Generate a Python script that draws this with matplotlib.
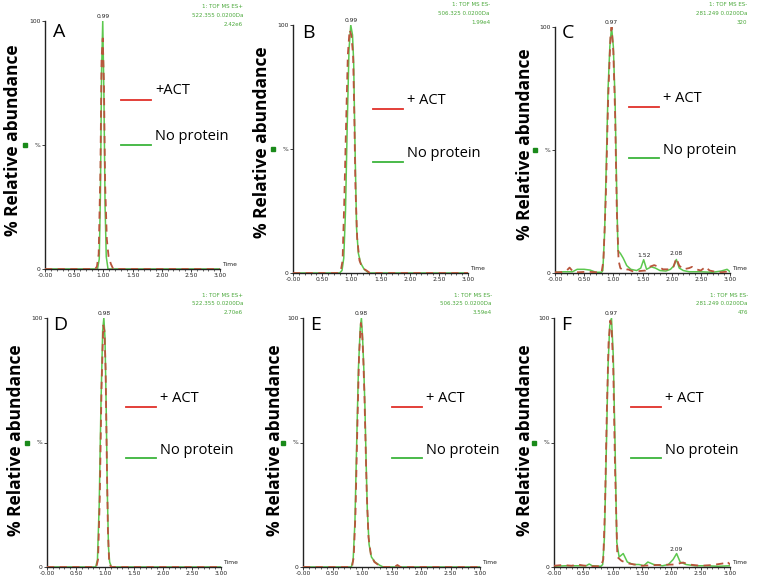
import matplotlib
matplotlib.use("Agg")
import matplotlib.pyplot as plt

# ---- data (time in min, % relative abundance) ----
a_t_green = [0.00, 0.50, 0.90, 0.93, 0.95, 0.97, 0.99, 1.01, 1.03, 1.05, 1.08, 3.00]
a_y_green = [0, 0, 0, 4, 30, 80, 100, 70, 25, 5, 0, 0]
a_t_red = [0.00, 0.86, 0.89, 0.92, 0.95, 0.97, 0.99, 1.01, 1.03, 1.06, 1.09, 1.13, 1.17, 3.00]
a_y_red = [0, 0, 1, 6, 40, 85, 93, 75, 35, 12, 5, 2, 0, 0]

b_t_green = [0.00, 0.80, 0.84, 0.87, 0.90, 0.93, 0.96, 0.99, 1.02, 1.04, 1.06, 1.09, 1.12, 1.16, 1.22, 1.30, 3.00]
b_y_green = [0, 0, 1, 6, 25, 60, 90, 100, 96, 85, 55, 18, 8, 4, 1.5, 0, 0]
b_t_red = [0.00, 0.78, 0.82, 0.85, 0.88, 0.91, 0.94, 0.97, 1.00, 1.03, 1.05, 1.07, 1.10, 1.14, 1.19, 1.26, 1.32, 3.00]
b_y_red = [0, 0, 1, 5, 30, 60, 88, 98, 96, 88, 65, 35, 14, 5, 2, 1, 0, 0]

c_t_green = [0.00, 0.15, 0.30, 0.38, 0.50, 0.60, 0.70, 0.80, 0.82, 0.85, 0.88, 0.91, 0.94, 0.97, 1.00,
             1.03, 1.06, 1.08, 1.12, 1.17, 1.23, 1.30, 1.40, 1.47, 1.52, 1.57, 1.65, 1.72, 1.80, 1.90,
             1.98, 2.04, 2.08, 2.13, 2.20, 2.30, 2.50, 2.70, 2.85, 2.95, 3.00]
c_y_green = [0.3, 0.5, 0.5, 1.5, 1.5, 1.2, 0.3, 0.3, 1, 16, 45, 75, 92, 100, 92,
             70, 30, 9, 8, 6, 3, 1.5, 1, 2, 5.4, 1.5, 2.5, 2, 1, 0.8,
             1.5, 3, 5.5, 2, 1, 0.5, 0.5, 0.3, 0.8, 1.5, 0.5]
c_t_red = [0.00, 0.10, 0.20, 0.25, 0.30, 0.40, 0.55, 0.70, 0.80, 0.83, 0.87, 0.91, 0.95, 0.97, 1.00,
           1.03, 1.06, 1.09, 1.12, 1.18, 1.25, 1.35, 1.45, 1.55, 1.62, 1.70, 1.78, 1.85, 1.95, 2.03,
           2.08, 2.13, 2.20, 2.30, 2.35, 2.42, 2.50, 2.58, 2.65, 2.75, 2.85, 2.92, 3.00]
c_y_red = [0.3, 0.3, 1, 2.2, 0.8, 0.3, 0.5, 0.3, 0.5, 5, 30, 70, 96, 100, 90,
           65, 25, 5, 2, 1, 1.5, 0.5, 0.8, 1, 2.5, 3.2, 2.5, 1.5, 1.5, 2.5,
           6, 3, 1.5, 2, 2.5, 1.5, 1, 2.5, 1, 0.5, 0.3, 0.5, 0.5]

d_t_green = [0.00, 0.84, 0.87, 0.90, 0.93, 0.96, 0.98, 1.00, 1.02, 1.04, 1.06, 1.08, 1.11, 3.00]
d_y_green = [0, 0, 3, 25, 65, 95, 100, 92, 65, 30, 8, 2, 0, 0]
d_t_red = [0.00, 0.85, 0.88, 0.91, 0.94, 0.97, 0.99, 1.01, 1.03, 1.05, 1.07, 1.10, 3.00]
d_y_red = [0, 0, 3, 28, 72, 97, 95, 80, 45, 15, 3, 0, 0]

e_t_green = [0.00, 0.82, 0.85, 0.88, 0.91, 0.94, 0.97, 0.99, 1.01, 1.03, 1.05, 1.07, 1.09, 1.12,
             1.16, 1.22, 1.30, 1.36, 3.00]
e_y_green = [0, 0, 3, 18, 50, 80, 96, 100, 92, 80, 64, 42, 23, 9, 4, 2, 0.7, 0, 0]
e_t_red = [0.00, 0.83, 0.86, 0.89, 0.92, 0.95, 0.98, 1.00, 1.02, 1.04, 1.06, 1.08, 1.11, 1.15,
           1.21, 1.28, 1.35, 1.55, 1.60, 1.65, 3.00]
e_y_red = [0, 0, 4, 22, 55, 85, 98, 95, 85, 70, 50, 30, 12, 5, 2, 0.8, 0, 0, 0.8, 0, 0]

f_t_green = [0.00, 0.20, 0.40, 0.55, 0.60, 0.65, 0.80, 0.83, 0.86, 0.89, 0.92, 0.95, 0.98, 1.01,
             1.04, 1.07, 1.11, 1.18, 1.25, 1.35, 1.45, 1.53, 1.60, 1.70, 1.85, 1.95, 2.03, 2.09,
             2.15, 2.25, 2.40, 2.60, 2.80, 3.00]
f_y_green = [0.3, 0.5, 0.5, 0.5, 1.2, 0.5, 0.3, 1, 12, 45, 80, 97, 100, 85,
             50, 10, 4, 5.4, 2, 1, 1, 0.5, 2, 1, 0.5, 1, 3, 5.4,
             2, 1, 0.5, 0.5, 0.3, 0.5]
f_t_red = [0.00, 0.15, 0.30, 0.40, 0.50, 0.65, 0.80, 0.84, 0.87, 0.90, 0.93, 0.96, 0.98, 1.01,
           1.04, 1.08, 1.15, 1.25, 1.50, 1.75, 2.05, 2.20, 2.30, 2.50, 2.70, 2.90, 2.95, 3.00]
f_y_red = [0.5, 0.8, 0.5, 1, 0.6, 0.3, 0.3, 3, 25, 62, 90, 99, 97, 80,
           40, 4, 2.5, 1.5, 0.5, 0.8, 1, 1.8, 1, 0.5, 0.8, 1.5, 2.2, 1]

letters = ["A", "B", "C", "D", "E", "F"]
act_labels = ["+ACT", "+ ACT", "+ ACT", "+ ACT", "+ ACT", "+ ACT"]
headers = [
    ["1: TOF MS ES+", "522.355 0.0200Da", "2.42e6"],
    ["1: TOF MS ES-", "506.325 0.0200Da", "1.99e4"],
    ["1: TOF MS ES-", "281.249 0.0200Da", "320"],
    ["1: TOF MS ES+", "522.355 0.0200Da", "2.70e6"],
    ["1: TOF MS ES-", "506.325 0.0200Da", "3.59e4"],
    ["1: TOF MS ES-", "281.249 0.0200Da", "476"],
]
peak_labels = [
    [(0.99, 100, "0.99")],
    [(0.99, 100, "0.99")],
    [(0.97, 100, "0.97"), (1.52, 5.4, "1.52"), (2.08, 6, "2.08")],
    [(0.98, 100, "0.98")],
    [(0.98, 100, "0.98")],
    [(0.97, 100, "0.97"), (2.09, 5.4, "2.09")],
]
xtick_vals = [0, 0.5, 1.0, 1.5, 2.0, 2.5, 3.0]
xtick_text = ["-0.00", "0.50", "1.00", "1.50", "2.00", "2.50", "3.00"]

green_traces = [(a_t_green, a_y_green), (b_t_green, b_y_green), (c_t_green, c_y_green),
                (d_t_green, d_y_green), (e_t_green, e_y_green), (f_t_green, f_y_green)]
red_traces = [(a_t_red, a_y_red), (b_t_red, b_y_red), (c_t_red, c_y_red),
              (d_t_red, d_y_red), (e_t_red, e_y_red), (f_t_red, f_y_red)]

# ---- layout in pixels of the 757x583 image ----
W, H = 757, 583
# axes box: x0, x1, ytop, ybottom
boxes = [(45, 220, 21, 269), (293, 468, 25, 273), (555, 730, 27, 273),
         (47, 221, 318, 567), (303, 480, 318, 567), (554, 730, 318, 567)]
# legend: red line x0, x1, red y, green y
legpos = [(121, 151, 100, 145), (373, 403, 109, 162), (629, 659, 107, 158),
          (126, 156, 407, 458), (392, 422, 407, 458), (631, 661, 407, 458)]
ylab_pos = [(13, 140), (262, 142), (525, 144), (16, 440), (275, 440), (525, 440)]
letter_pos = [(53, 32), (302, 33), (562, 33), (53, 325), (310, 325), (561, 325)]
header_pos = [(243, 7), (490, 5), (747, 5), (243, 295), (492, 295), (748, 295)]

GREEN = "#5cc84e"
RED = "#e0302a"
HDR = "#4aa83a"
BIG = ["Open Sans", "DejaVu Sans"]

fig = plt.figure(figsize=(W / 100, H / 100), dpi=100)
fig.patch.set_facecolor("white")


def fx(px):
    return px / W


def fy(py):
    return 1 - py / H


for i in range(6):
    x0, x1, yt, yb = boxes[i]
    ax = fig.add_axes([fx(x0), fy(yb), fx(x1 - x0), (yb - yt) / H])
    gt, gy = green_traces[i]
    rt, ry = red_traces[i]
    ax.plot(gt, gy, color=GREEN, lw=1.1, zorder=2)
    ax.plot(rt, ry, color="#b8553c", lw=1.3, dashes=(4, 3), zorder=3)
    ax.set_xlim(0, 3.0)
    ax.set_ylim(0, 100)
    for s in ["top", "right"]:
        ax.spines[s].set_visible(False)
    for s in ["left", "bottom"]:
        ax.spines[s].set_color("#222222")
        ax.spines[s].set_linewidth(1.0)
    ax.set_xticks(xtick_vals)
    ax.set_xticklabels(xtick_text)
    ax.set_xticks([k / 10 for k in range(31)], minor=True)
    ax.set_yticks([0, 50, 100])
    ax.set_yticklabels(["0", "%", "100"])
    ax.tick_params(axis="both", which="major", labelsize=4.3, length=2, width=0.6,
                   pad=1, colors="#222222")
    ax.tick_params(axis="both", which="minor", length=1.2, width=0.5, colors="#222222")
    ax.text(3.04, 0.8, "Time", fontsize=4.3, ha="left", va="bottom", color="#222222",
            clip_on=False)
    for (pt, py, lab) in peak_labels[i]:
        ax.text(pt, py + 0.8, lab, fontsize=4.3, ha="center", va="bottom", color="#222222",
                clip_on=False)
    # small green marker left of the y axis
    ax.plot([-20 * 3.0 / (x1 - x0)], [50], marker="s", ms=2.6, color="#1a8a1a",
            clip_on=False)

    # legend lines + labels
    lx0, lx1, ry_px, gy_px = legpos[i]
    fig.add_artist(plt.Line2D([fx(lx0), fx(lx1)], [fy(ry_px), fy(ry_px)], color=RED, lw=1.3))
    fig.add_artist(plt.Line2D([fx(lx0), fx(lx1)], [fy(gy_px), fy(gy_px)], color="#3cb43c", lw=1.3))
    fig.text(fx(lx1 + 4), fy(ry_px - 9), act_labels[i], fontsize=10.5, family=BIG,
             ha="left", va="center")
    fig.text(fx(lx1 + 4), fy(gy_px - 8), "No protein", fontsize=10.5, family=BIG,
             ha="left", va="center")

    # panel letter, y label, header
    lx, ly = letter_pos[i]
    fig.text(fx(lx), fy(ly), letters[i], fontsize=14, family=BIG, ha="left", va="center")
    yx, yy = ylab_pos[i]
    fig.text(fx(yx), fy(yy), "% Relative abundance", fontsize=12.5, fontweight="bold",
             family=BIG, rotation=90, ha="center", va="center")
    hx, hy = header_pos[i]
    for k, line in enumerate(headers[i]):
        fig.text(fx(hx), fy(hy + 8.5 * k), line, fontsize=4, color=HDR, ha="right", va="center")

fig.savefig("out.png", dpi=100, facecolor="white")
